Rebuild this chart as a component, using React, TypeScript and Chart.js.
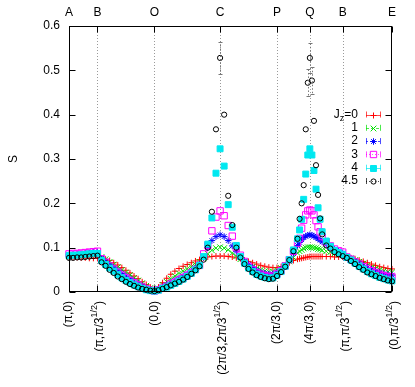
import React, { useEffect, useRef } from "react";
import { Chart, registerables } from "chart.js";

Chart.register(...registerables);

// cumulative path coordinate along A-B-O-C-P-Q-B-E
const kPath = [
  0, 0.259, 0.518, 0.777, 1.036, 1.296, 1.555, 1.814,
  2.073, 2.332, 2.591, 2.85, 3.109, 3.368, 3.627, 3.886, 4.145, 4.405, 4.664, 4.923, 5.182, 5.441,
  5.703, 5.965, 6.227, 6.489, 6.75, 7.012, 7.274, 7.536, 7.798, 8.059, 8.321, 8.583, 8.845, 9.107, 9.368, 9.63,
  9.889, 10.148, 10.407, 10.666, 10.925, 11.184, 11.443, 11.703, 11.962, 12.221, 12.48, 12.739, 12.998, 13.257,
  13.519, 13.781, 14.043, 14.305, 14.566, 14.697, 14.828, 14.959, 15.09, 15.221, 15.352,
  15.483, 15.614, 15.745, 15.876, 16.006, 16.137, 16.399, 16.661, 16.923, 17.185, 17.446,
  17.708, 17.97, 18.232, 18.494, 18.755, 19.017, 19.279, 19.541, 19.803, 20.064, 20.326, 20.588,
];

const sJz0 = [
  0.079, 0.078, 0.078, 0.077, 0.077, 0.076, 0.076, 0.076,
  0.076, 0.074, 0.071, 0.066, 0.061, 0.055, 0.049, 0.043, 0.036, 0.03, 0.023, 0.017, 0.011, 0.005,
  0.011, 0.021, 0.031, 0.04, 0.047, 0.053, 0.058, 0.062, 0.066, 0.07, 0.073, 0.077, 0.079, 0.08, 0.081, 0.081,
  0.081, 0.08, 0.079, 0.077, 0.075, 0.072, 0.069, 0.066, 0.063, 0.06, 0.058, 0.056, 0.055, 0.055,
  0.057, 0.061, 0.066, 0.071, 0.074, 0.075, 0.076, 0.077, 0.078, 0.079, 0.08,
  0.08, 0.08, 0.08, 0.08, 0.08, 0.08, 0.08, 0.08, 0.079, 0.079, 0.079,
  0.079, 0.077, 0.075, 0.072, 0.069, 0.066, 0.063, 0.06, 0.057, 0.055, 0.053, 0.052,
];
const sJz1 = [
  0.081, 0.082, 0.082, 0.083, 0.084, 0.085, 0.085, 0.086,
  0.079, 0.074, 0.068, 0.062, 0.056, 0.05, 0.044, 0.038, 0.032, 0.026, 0.02, 0.014, 0.009, 0.004,
  0.008, 0.016, 0.023, 0.03, 0.036, 0.042, 0.047, 0.052, 0.057, 0.062, 0.068, 0.076, 0.086, 0.094, 0.099, 0.101,
  0.099, 0.095, 0.088, 0.081, 0.074, 0.068, 0.062, 0.057, 0.053, 0.05, 0.047, 0.046, 0.046, 0.049,
  0.054, 0.061, 0.069, 0.078, 0.088, 0.092, 0.095, 0.098, 0.1, 0.101, 0.101,
  0.101, 0.1, 0.099, 0.097, 0.096, 0.094, 0.092, 0.09, 0.087, 0.085, 0.083,
  0.079, 0.076, 0.072, 0.068, 0.064, 0.06, 0.056, 0.053, 0.05, 0.047, 0.045, 0.044,
];
const sJz2 = [
  0.084, 0.085, 0.085, 0.086, 0.087, 0.088, 0.089, 0.089,
  0.076, 0.069, 0.062, 0.055, 0.048, 0.042, 0.036, 0.03, 0.024, 0.019, 0.014, 0.009, 0.005, 0.003,
  0.006, 0.011, 0.016, 0.021, 0.026, 0.031, 0.036, 0.041, 0.047, 0.054, 0.063, 0.078, 0.1, 0.116, 0.125, 0.129,
  0.125, 0.116, 0.104, 0.092, 0.08, 0.07, 0.062, 0.055, 0.049, 0.045, 0.042, 0.04, 0.041, 0.045,
  0.051, 0.06, 0.072, 0.087, 0.105, 0.112, 0.118, 0.123, 0.126, 0.128, 0.129,
  0.128, 0.126, 0.123, 0.12, 0.117, 0.113, 0.107, 0.101, 0.096, 0.092, 0.088,
  0.08, 0.075, 0.07, 0.065, 0.06, 0.055, 0.051, 0.047, 0.044, 0.041, 0.039, 0.038,
];
const sJz3 = [
  0.086, 0.087, 0.087, 0.088, 0.089, 0.09, 0.091, 0.092,
  0.075, 0.067, 0.059, 0.052, 0.045, 0.038, 0.032, 0.026, 0.021, 0.016, 0.011, 0.007, 0.004, 0.002,
  0.005, 0.009, 0.013, 0.018, 0.022, 0.027, 0.032, 0.038, 0.044, 0.051, 0.06, 0.086, 0.105, 0.138, 0.169, 0.183,
  0.172, 0.15, 0.126, 0.1, 0.083, 0.069, 0.058, 0.05, 0.044, 0.04, 0.037, 0.035, 0.036, 0.041,
  0.048, 0.059, 0.073, 0.092, 0.11, 0.121, 0.144, 0.162, 0.174, 0.183, 0.185,
  0.183, 0.174, 0.161, 0.147, 0.136, 0.125, 0.113, 0.104, 0.097, 0.093, 0.09,
  0.079, 0.074, 0.068, 0.063, 0.057, 0.052, 0.048, 0.044, 0.04, 0.037, 0.035, 0.034,
];
const sJz4 = [
  0.082, 0.083, 0.083, 0.084, 0.085, 0.086, 0.087, 0.087,
  0.071, 0.062, 0.054, 0.047, 0.039, 0.032, 0.026, 0.021, 0.016, 0.012, 0.008, 0.005, 0.003, 0.002,
  0.004, 0.008, 0.011, 0.015, 0.019, 0.024, 0.029, 0.035, 0.042, 0.05, 0.06, 0.08, 0.108, 0.167, 0.268, 0.323,
  0.284, 0.197, 0.146, 0.105, 0.08, 0.065, 0.054, 0.046, 0.04, 0.036, 0.033, 0.031, 0.032, 0.038,
  0.046, 0.058, 0.073, 0.095, 0.12, 0.14, 0.164, 0.209, 0.266, 0.309, 0.323,
  0.309, 0.274, 0.232, 0.19, 0.164, 0.136, 0.115, 0.103, 0.094, 0.089, 0.085,
  0.078, 0.072, 0.065, 0.058, 0.052, 0.046, 0.041, 0.037, 0.033, 0.03, 0.027, 0.025,
];
const sJz45 = [
  0.077, 0.077, 0.078, 0.078, 0.079, 0.08, 0.081, 0.082,
  0.067, 0.059, 0.05, 0.043, 0.035, 0.029, 0.023, 0.018, 0.014, 0.01, 0.007, 0.005, 0.003, 0.002,
  0.004, 0.007, 0.011, 0.015, 0.019, 0.023, 0.028, 0.034, 0.041, 0.049, 0.058, 0.073, 0.1, 0.181, 0.367, 0.528,
  0.4, 0.217, 0.151, 0.1, 0.078, 0.063, 0.052, 0.044, 0.038, 0.034, 0.031, 0.029, 0.03, 0.036,
  0.045, 0.057, 0.072, 0.092, 0.12, 0.165, 0.2, 0.241, 0.367, 0.472, 0.528,
  0.477, 0.386, 0.286, 0.219, 0.166, 0.13, 0.105, 0.098, 0.09, 0.085, 0.081,
  0.077, 0.07, 0.063, 0.056, 0.05, 0.044, 0.04, 0.036, 0.032, 0.029, 0.026, 0.024,
];
// error bars of the Jz=4.5 series
const eJz45 = [
  0, 0, 0, 0, 0, 0, 0, 0,
  0, 0, 0, 0, 0, 0, 0, 0, 0, 0, 0, 0, 0, 0,
  0, 0, 0, 0, 0, 0, 0, 0, 0, 0, 0, 0, 0, 0, 0, 0.037,
  0, 0, 0, 0, 0, 0, 0, 0, 0, 0, 0, 0, 0, 0,
  0, 0, 0, 0, 0, 0, 0, 0, 0, 0.03, 0.033,
  0.03, 0, 0, 0, 0, 0, 0, 0, 0, 0, 0,
  0, 0, 0, 0, 0, 0, 0, 0, 0, 0, 0, 0,
];

const legendLabels = ["J_z=0", "1", "2", "3", "4", "4.5"];
const vertexK = [0, 1.814, 5.441, 9.63, 13.257, 15.352, 17.446, 20.588];
const vertexTop = ["A", "B", "O", "C", "P", "Q", "B", "E"];
const vertexBottom = [
  "(π,0)", "(π,π/3^{1/2})", "(0,0)", "(2π/3,2π/3^{1/2})",
  "(2π/3,0)", "(4π/3,0)", "(π,π/3^{1/2})", "(0,π/3^{1/2})",
];
const yTicks = [0, 0.1, 0.2, 0.3, 0.4, 0.5, 0.6];
const yTitle = "S";

const seriesValues = [sJz0, sJz1, sJz2, sJz3, sJz4, sJz45];
const seriesErrors = [null, null, null, null, null, eJz45];

const STYLES = [
  { color: "#ff0000", shape: "cross", r: 3, fill: false, dash: [] as number[] },
  { color: "#00e000", shape: "crossRot", r: 4, fill: false, dash: [3, 2] },
  { color: "#0000ff", shape: "star", r: 3.3, fill: false, dash: [2, 2] },
  { color: "#ff00ff", shape: "rect", r: 4.5, fill: false, dash: [1, 2] },
  { color: "#00e8f0", shape: "rect", r: 4.2, fill: true, dash: [] as number[] },
  { color: "#000000", shape: "circle", r: 2.6, fill: false, dash: [1, 2] },
];

const FONT = '"Liberation Sans", Arial, Helvetica, sans-serif';

type Part = { t: string; kind: "n" | "sup" | "sub" };
function parseRich(s: string): Part[] {
  const out: Part[] = [];
  let i = 0;
  let buf = "";
  while (i < s.length) {
    const c = s[i];
    if (c === "^" || c === "_") {
      if (buf) { out.push({ t: buf, kind: "n" }); buf = ""; }
      const kind = c === "^" ? "sup" : "sub";
      if (s[i + 1] === "{") {
        const j = s.indexOf("}", i + 2);
        out.push({ t: s.slice(i + 2, j), kind });
        i = j + 1;
      } else {
        out.push({ t: s[i + 1], kind });
        i += 2;
      }
    } else {
      buf += c;
      i++;
    }
  }
  if (buf) out.push({ t: buf, kind: "n" });
  return out;
}
function partFont(p: Part, size: number) {
  return `${p.kind === "n" ? size : Math.round(size * 0.75)}px ${FONT}`;
}
function measureRich(ctx: CanvasRenderingContext2D, parts: Part[], size: number) {
  let w = 0;
  for (const p of parts) { ctx.font = partFont(p, size); w += ctx.measureText(p.t).width; }
  return w;
}
function drawRich(ctx: CanvasRenderingContext2D, parts: Part[], x: number, y: number, size: number) {
  ctx.textAlign = "left";
  ctx.textBaseline = "middle";
  let cx = x;
  for (const p of parts) {
    ctx.font = partFont(p, size);
    const dy = p.kind === "sup" ? -size * 0.45 : p.kind === "sub" ? size * 0.35 : 0;
    ctx.fillText(p.t, cx, y + dy);
    cx += ctx.measureText(p.t).width;
  }
}

function drawMarker(ctx: CanvasRenderingContext2D, st: typeof STYLES[number], x: number, y: number) {
  const r = st.r;
  ctx.save();
  ctx.setLineDash([]);
  ctx.lineWidth = 1;
  ctx.strokeStyle = st.color;
  ctx.fillStyle = st.color;
  ctx.beginPath();
  const d = r * Math.SQRT1_2;
  if (st.shape === "cross" || st.shape === "star") {
    ctx.moveTo(x - r, y); ctx.lineTo(x + r, y);
    ctx.moveTo(x, y - r); ctx.lineTo(x, y + r);
  }
  if (st.shape === "crossRot" || st.shape === "star") {
    ctx.moveTo(x - d, y - d); ctx.lineTo(x + d, y + d);
    ctx.moveTo(x - d, y + d); ctx.lineTo(x + d, y - d);
  }
  if (st.shape === "rect") ctx.rect(x - d, y - d, 2 * d, 2 * d);
  if (st.shape === "circle") ctx.arc(x, y, r, 0, Math.PI * 2);
  if (st.fill) ctx.fill();
  ctx.stroke();
  ctx.restore();
}

const decorPlugin = {
  id: "decor",
  beforeDatasetsDraw(chart: any) {
    const { ctx, chartArea: a, scales } = chart;
    ctx.save();
    ctx.strokeStyle = "#9a9a9a";
    ctx.lineWidth = 1;
    ctx.setLineDash([1, 2]);
    vertexK.slice(1, -1).forEach((k) => {
      const px = Math.round(scales.x.getPixelForValue(k)) + 0.5;
      ctx.beginPath();
      ctx.moveTo(px, a.top);
      ctx.lineTo(px, a.bottom);
      ctx.stroke();
    });
    ctx.restore();
  },
  afterDatasetsDraw(chart: any) {
    const { ctx, scales } = chart;
    ctx.save();
    seriesErrors.forEach((errs, si) => {
      if (!errs) return;
      ctx.strokeStyle = "#777";
      ctx.lineWidth = 1;
      errs.forEach((e, i) => {
        if (!e) return;
        const v = seriesValues[si][i];
        const px = Math.round(scales.x.getPixelForValue(kPath[i])) + 0.5;
        const y1 = scales.y.getPixelForValue(v + e);
        const y2 = scales.y.getPixelForValue(v - e);
        ctx.setLineDash([1.5, 2]);
        ctx.beginPath();
        ctx.moveTo(px, y1);
        ctx.lineTo(px, y2);
        ctx.stroke();
        ctx.setLineDash([]);
        ctx.beginPath();
        ctx.moveTo(px - 2, Math.round(y1) + 0.5);
        ctx.lineTo(px + 2, Math.round(y1) + 0.5);
        ctx.moveTo(px - 2, Math.round(y2) + 0.5);
        ctx.lineTo(px + 2, Math.round(y2) + 0.5);
        ctx.stroke();
      });
    });
    ctx.restore();
  },
  afterDraw(chart: any) {
    const { ctx, chartArea: a, scales } = chart;
    const L = Math.round(a.left) + 0.5;
    const R = Math.round(a.right) - 0.5;
    const T = Math.round(a.top) + 0.5;
    const B = Math.round(a.bottom) - 0.5;
    ctx.save();
    ctx.setLineDash([]);
    ctx.strokeStyle = "#000";
    ctx.lineWidth = 1;
    ctx.strokeRect(L, T, R - L, B - T);
    ctx.beginPath();
    yTicks.forEach((v) => {
      const py = Math.round(scales.y.getPixelForValue(v)) + 0.5;
      ctx.moveTo(L, py); ctx.lineTo(L + 6, py);
      ctx.moveTo(R, py); ctx.lineTo(R - 6, py);
    });
    vertexK.forEach((k) => {
      const px = Math.round(scales.x.getPixelForValue(k)) + 0.5;
      ctx.moveTo(px, B); ctx.lineTo(px, B - 6);
      ctx.moveTo(px, T); ctx.lineTo(px, T + 6);
    });
    ctx.stroke();

    ctx.fillStyle = "#000";
    ctx.font = `12px ${FONT}`;
    ctx.textAlign = "right";
    ctx.textBaseline = "middle";
    yTicks.forEach((v) => {
      const py = scales.y.getPixelForValue(v);
      ctx.fillText(v === 0 ? "0" : v.toFixed(1), a.left - 9, py);
    });
    ctx.textAlign = "center";
    vertexTop.forEach((t, i) => {
      ctx.fillText(t, scales.x.getPixelForValue(vertexK[i]), a.top - 13);
    });
    // rotated bottom labels
    vertexBottom.forEach((t, i) => {
      const parts = parseRich(t);
      const hasSup = parts.some((p) => p.kind === "sup");
      const w = measureRich(ctx, parts, 12);
      ctx.save();
      ctx.translate(scales.x.getPixelForValue(vertexK[i]) + (hasSup ? 2.5 : 0), a.bottom + 9);
      ctx.rotate(-Math.PI / 2);
      drawRich(ctx, parts, -w, 0, 12);
      ctx.restore();
    });
    // y title
    ctx.save();
    ctx.translate(14, (a.top + a.bottom) / 2);
    ctx.rotate(-Math.PI / 2);
    ctx.font = `12px ${FONT}`;
    ctx.textAlign = "center";
    ctx.textBaseline = "middle";
    ctx.fillText(yTitle, 0, 0);
    ctx.restore();
    // legend
    legendLabels.forEach((lab, i) => {
      const st = STYLES[i];
      const y = 114.5 + i * 13.3;
      const parts = parseRich(lab);
      const w = measureRich(ctx, parts, 12);
      ctx.fillStyle = "#000";
      drawRich(ctx, parts, 358 - w, y, 12);
      ctx.save();
      ctx.strokeStyle = st.color;
      ctx.globalAlpha = 0.7;
      ctx.lineWidth = 1;
      ctx.setLineDash(st.dash);
      ctx.beginPath();
      ctx.moveTo(366, Math.round(y) + 0.5);
      ctx.lineTo(381, Math.round(y) + 0.5);
      ctx.stroke();
      ctx.setLineDash([]);
      ctx.beginPath();
      ctx.moveTo(366.5, y - 3); ctx.lineTo(366.5, y + 3);
      ctx.moveTo(380.5, y - 3); ctx.lineTo(380.5, y + 3);
      ctx.stroke();
      ctx.restore();
      drawMarker(ctx, st, 373.5, Math.round(y) + 0.5);
    });
    ctx.restore();
  },
};

export default function App() {
  const ref = useRef<HTMLCanvasElement>(null);
  useEffect(() => {
    const datasets = seriesValues.map((vals, si) => {
      const st = STYLES[si];
      return {
        label: legendLabels[si],
        data: kPath.map((k, i) => ({ x: k, y: vals[i] })),
        showLine: false,
        pointStyle: st.shape,
        pointRadius: st.r,
        pointHoverRadius: st.r,
        pointBorderWidth: 1,
        pointBorderColor: st.color,
        pointBackgroundColor: st.fill ? st.color : "rgba(0,0,0,0)",
        order: 5 - si,
        clip: false as any,
      };
    });
    const chart = new Chart(ref.current!, {
      type: "scatter",
      data: { datasets: datasets as any },
      options: {
        animation: false,
        responsive: false,
        events: [],
        layout: { padding: { left: 69, right: 23, top: 26, bottom: 95 } },
        plugins: { legend: { display: false }, tooltip: { enabled: false } },
        scales: {
          x: { type: "linear", min: 0, max: vertexK[vertexK.length - 1], display: false },
          y: { type: "linear", min: 0, max: 0.6, display: false },
        },
      },
      plugins: [decorPlugin],
    });
    return () => chart.destroy();
  }, []);
  return (
    <div style={{ position: "absolute", left: 0, top: 0, width: 415, height: 387 }}>
      <canvas ref={ref} width={415} height={387} style={{ display: "block" }} />
    </div>
  );
}
